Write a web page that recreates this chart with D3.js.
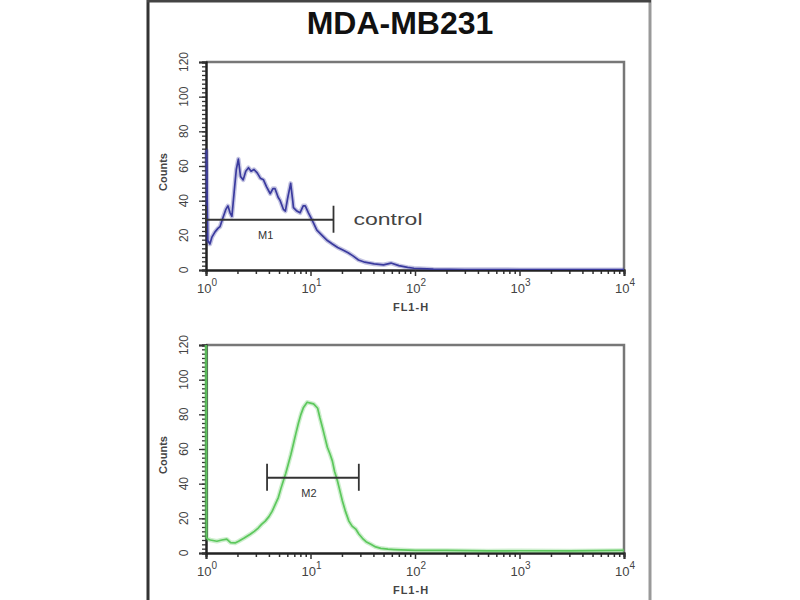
<!DOCTYPE html>
<html>
<head>
<meta charset="utf-8">
<script src="https://cdn.jsdelivr.net/npm/d3@7"></script>
<style>
  body { margin:0; background:white; }
  text { font-family: "Liberation Sans", Arial, sans-serif; }
  .title { font-weight:bold; font-size:32px; fill:#111; }
  .ticklabel { font-size:13px; fill:#444; }
  .ylabel { font-size:12px; fill:#444; }
  .axislabel { font-size:11px; font-weight:bold; fill:#444; }
  .marker { font-size:11px; fill:#333; }
</style>
</head>
<body>
<svg id="facsgraph"></svg>
<script>

//control histogram (FL1-H channel value, counts)
var controlFL = [1.00,1.01,1.04,1.09,1.14,1.22,1.30,1.36,1.45,1.55,1.62,1.70,1.77,1.86,1.95,2.04,2.14,2.27,2.40,2.55,
                 2.70,2.88,3.09,3.31,3.55,3.80,4.12,4.37,4.57,4.90,5.13,5.50,5.75,6.03,6.46,6.76,6.87,7.41,7.94,8.51,
                 8.91,9.55,10.0,10.7,11.5,12.9,14.5,16.2,18.2,20.4,22.9,25.7,28.8,33.1,40.7,50,58.9,70,85,97.7,
                 150,300,1000,10000]
var controlCounts = [69,69,17,15,19,22,24,25,30,35,37,33,31,45,58,64,54,52,57,59,
                     57,58,56,53,52,48,44,47,47,42,40,35,34,41,50,40,36,34,33,37,
                     37,33,30.6,27,23,20,17,15,13,11.5,10,8,5.8,4.5,3.5,3,4,2.5,1.5,1,
                     0.5,0.3,0.2,0.2]

//antibody stained histogram
var sampleFL = [1.00,1.01,1.04,1.10,1.27,1.42,1.58,1.72,1.90,2.05,2.30,2.65,2.90,3.16,3.40,3.69,4.00,4.29,4.60,4.92,
                5.20,5.50,5.80,6.14,6.50,6.87,7.25,7.67,8.10,8.57,9.29,10.0,10.7,11.1,11.7,12.3,13.0,13.7,14.5,15.4,
                16.2,17.0,18.1,19.1,20.2,21.6,23.3,25.0,27.1,29.0,31.4,34.0,37.8,42.0,47.1,55,62.8,100,200,500,
                1000,3000,10000]
var sampleCounts = [130,9,8,7.5,6.8,7.5,8,6,5.8,6.8,8.5,10.8,12.5,14.4,16.5,18.4,21,24,28,32,
                    37,41.7,46,51.5,57,63,69,75,80,84,87,86.5,86,85,83.5,78,72.5,67,61,57,
                    53,47,41.7,36,30,24,18.4,15.5,13.8,11,8.5,6.5,5,3.5,2.7,2.2,2,1.5,1.5,1.2,
                    1.3,1.2,1.5]

//gate markers
var markerNames = ["M1","M2"]
var markerStart = [1.0,3.84]
var markerEnd = [16.6,29]
var markerLevel = [29,43.4]

//axis ticks
var xMajorTicks = [1,10,100,1000,10000]
var xTickExponents = ["0","1","2","3","4"]
var yMajorTicks = [0,20,40,60,80,100,120]

var titleText = "MDA-MB231"

//draws one histogram panel
//top is the y position of the panel's upper edge
var drawPanel = function(svg,top,fl,counts,color,marker,note)
{
    var plot = {left:206,right:624,height:208}
    var xScale = d3.scaleLog()
        .domain([1,10000])
        .range([plot.left,plot.right])
    var yScale = d3.scaleLinear()
        .domain([0,120])
        .range([top+plot.height,top])

    var panel = svg.append("g")

    //grey frame on top and right
    panel.append("path")
         .attr("d","M"+plot.left+","+top+"H"+plot.right+"V"+(top+plot.height))
         .attr("fill","none")
         .attr("stroke","#777")
         .attr("stroke-width",2.5)

    //x axis: minor ticks at 2..9 of each decade
    var minor = []
    xMajorTicks.slice(0,4).forEach(function(d){
        for(var k=2;k<10;k++){minor.push(d*k)}
    })
    panel.append("g")
         .attr("transform","translate(0,"+(top+plot.height)+")")
         .call(d3.axisBottom(xScale).tickValues(minor).tickSize(4).tickFormat(""))
    panel.append("g")
         .attr("transform","translate(0,"+(top+plot.height)+")")
         .call(d3.axisBottom(xScale).tickValues(xMajorTicks).tickSize(6).tickFormat(""))
    panel.selectAll(".domain").attr("stroke","#222").attr("stroke-width",2)
    panel.selectAll(".tick line").attr("stroke","#333").attr("stroke-width",1.5)

    var xLabels = panel.append("g").selectAll("text")
        .data(xMajorTicks)
        .enter()
        .append("text")
        .classed("ticklabel",true)
        .attr("text-anchor","middle")
        .attr("x",function(d){return xScale(d)+1})
        .attr("y",top+plot.height+23)
    xLabels.append("tspan").text("10")
    xLabels.append("tspan")
           .text(function(d,i){return xTickExponents[i]})
           .attr("dy",-7)
           .attr("font-size",10)

    panel.append("text")
         .text("FL1-H")
         .classed("axislabel",true)
         .attr("text-anchor","middle")
         .attr("letter-spacing",1)
         .attr("x",411)
         .attr("y",top+plot.height+41)

    //y axis
    var yMinor = d3.range(0,121,2.5)
    var yAxisG = panel.append("g")
         .attr("transform","translate("+plot.left+",0)")
    yAxisG.append("g")
          .call(d3.axisLeft(yScale).tickValues(yMinor).tickSize(4).tickFormat(""))
    yAxisG.append("g")
          .call(d3.axisLeft(yScale).tickValues(yMajorTicks).tickSize(7).tickFormat(""))
    yAxisG.selectAll(".domain").attr("stroke","#222").attr("stroke-width",2)
    yAxisG.selectAll(".tick line").attr("stroke","#333").attr("stroke-width",1.3)

    panel.append("g").selectAll("text")
         .data(yMajorTicks)
         .enter()
         .append("text")
         .text(function(d){return d})
         .classed("ylabel",true)
         .attr("text-anchor","middle")
         .attr("transform",function(d){return "translate(188,"+yScale(d)+") rotate(-90)"})

    panel.append("text")
         .text("Counts")
         .classed("axislabel",true)
         .attr("text-anchor","middle")
         .attr("transform","translate(167,"+(top+110)+") rotate(-90)")

    //histogram line, clipped to the plot, drawn over the axes
    var clipId = "clip"+top
    panel.append("clipPath")
         .attr("id",clipId)
         .append("rect")
         .attr("x",plot.left-2)
         .attr("y",top)
         .attr("width",plot.right-plot.left+2)
         .attr("height",plot.height)

    var points = fl.map(function(v,i){return [v,counts[i]]})
    var line = d3.line()
        .x(function(p){return xScale(p[0])})
        .y(function(p){return yScale(Math.min(p[1],125))})

    //soft halo then the line itself
    panel.append("path")
         .datum(points)
         .attr("clip-path","url(#"+clipId+")")
         .attr("d",line)
         .attr("fill","none")
         .attr("stroke",color)
         .attr("stroke-opacity",0.3)
         .attr("stroke-width",4.5)
         .attr("stroke-linejoin","round")
    panel.append("path")
         .datum(points)
         .attr("clip-path","url(#"+clipId+")")
         .attr("d",line)
         .attr("fill","none")
         .attr("stroke",color)
         .attr("stroke-width",1.7)
         .attr("stroke-linejoin","round")

    //gate marker
    var my = yScale(markerLevel[marker])
    var x1 = xScale(markerStart[marker])
    var x2 = xScale(markerEnd[marker])
    var gate = panel.append("g")
                    .attr("stroke","#333")
                    .attr("stroke-width",1.8)
    gate.append("line").attr("x1",x1).attr("x2",x2).attr("y1",my).attr("y2",my)
    gate.append("line").attr("x1",x1).attr("x2",x1).attr("y1",my-14).attr("y2",my+13)
    gate.append("line").attr("x1",x2).attr("x2",x2).attr("y1",my-14).attr("y2",my+13)
    panel.append("text")
         .text(markerNames[marker])
         .classed("marker",true)
         .attr("text-anchor","middle")
         .attr("x",xScale(Math.sqrt(markerStart[marker]*markerEnd[marker]))-4)
         .attr("y",my+19)

    if(note)
    {
        panel.append("text")
             .text(note)
             .attr("x",x2+20)
             .attr("y",my+5)
             .attr("font-size",17)
             .attr("fill","#444")
             .attr("textLength",69)
             .attr("lengthAdjust","spacingAndGlyphs")
    }
}

var initGraph = function()
{
    var screen = {width:800,height:600}
    var svg = d3.select("#facsgraph")
                .attr("width",screen.width)
                .attr("height",screen.height)

    //outer frame of the figure
    svg.append("line").attr("x1",148).attr("x2",148).attr("y1",0).attr("y2",600)
       .attr("stroke","#333").attr("stroke-width",3)
    svg.append("line").attr("x1",650).attr("x2",650).attr("y1",0).attr("y2",600)
       .attr("stroke","#999").attr("stroke-width",3)
    svg.append("line").attr("x1",147).attr("x2",651).attr("y1",1).attr("y2",1)
       .attr("stroke","#444").attr("stroke-width",3)

    svg.append("text")
       .text(titleText)
       .classed("title",true)
       .attr("text-anchor","middle")
       .attr("x",400)
       .attr("y",34)

    drawPanel(svg,62,controlFL,controlCounts,"#3a3a9e",0,"control")
    drawPanel(svg,345,sampleFL,sampleCounts,"#5cc85c",1,null)
}

initGraph()
</script>
</body>
</html>
